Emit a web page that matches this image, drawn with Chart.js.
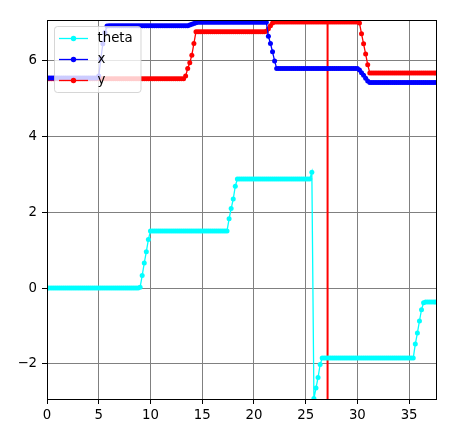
<!DOCTYPE html>
<html><head><meta charset="utf-8">
<script src="https://cdn.jsdelivr.net/npm/chart.js@4.4.0/dist/chart.umd.min.js"></script>
<style>html,body{margin:0;padding:0;background:#fff;}canvas{display:block;}</style>
</head><body>
<canvas id="c" width="454" height="438"></canvas>
<script>
// sample times (s)
const time = [
0,0.2,0.4,0.6,0.8,1,1.2,1.4,1.6,1.8,
2,2.2,2.4,2.6,2.8,3,3.2,3.4,3.6,3.8,
4,4.2,4.4,4.6,4.8,5,5.2,5.4,5.6,5.8,
6,6.2,6.4,6.6,6.8,7,7.2,7.4,7.6,7.8,
8,8.2,8.4,8.6,8.8,9,9.2,9.4,9.6,9.8,
10,10.2,10.4,10.6,10.8,11,11.2,11.4,11.6,11.8,
12,12.2,12.4,12.6,12.8,13,13.2,13.4,13.6,13.8,
14,14.2,14.4,14.6,14.8,15,15.2,15.4,15.6,15.8,
16,16.2,16.4,16.6,16.8,17,17.2,17.4,17.6,17.8,
18,18.2,18.4,18.6,18.8,19,19.2,19.4,19.6,19.8,
20,20.2,20.4,20.6,20.8,21,21.2,21.4,21.6,21.8,
22,22.2,22.4,22.6,22.8,23,23.2,23.4,23.6,23.8,
24,24.2,24.4,24.6,24.8,25,25.2,25.4,25.6,25.8,
26,26.2,26.4,26.6,26.8,27,27.2,27.4,27.6,27.8,
28,28.2,28.4,28.6,28.8,29,29.2,29.4,29.6,29.8,
30,30.2,30.4,30.6,30.8,31,31.2,31.4,31.6,31.8,
32,32.2,32.4,32.6,32.8,33,33.2,33.4,33.6,33.8,
34,34.2,34.4,34.6,34.8,35,35.2,35.4,35.6,35.8,
36,36.2,36.4,36.6,36.8,37,37.2,37.4,37.6
];
const theta = [
0,0,0,0,0,0,0,0,0,0,
0,0,0,0,0,0,0,0,0,0,
0,0,0,0,0,0,0,0,0,0,
0,0,0,0,0,0,0,0,0,0,
0,0,0,0,0,0.02,0.33,0.66,0.96,1.28,
1.51,1.51,1.51,1.51,1.51,1.51,1.51,1.51,1.51,1.51,
1.51,1.51,1.51,1.51,1.51,1.51,1.51,1.51,1.51,1.51,
1.51,1.51,1.51,1.51,1.51,1.51,1.51,1.51,1.51,1.51,
1.51,1.51,1.51,1.51,1.51,1.51,1.51,1.51,1.83,2.1,
2.35,2.69,2.88,2.88,2.88,2.88,2.88,2.88,2.88,2.88,
2.88,2.88,2.88,2.88,2.88,2.88,2.88,2.88,2.88,2.88,
2.88,2.88,2.88,2.88,2.88,2.88,2.88,2.88,2.88,2.88,
2.88,2.88,2.88,2.88,2.88,2.88,2.88,2.88,3.06,-2.92,
-2.64,-2.36,-2.02,-1.85,-1.85,-1.85,-1.85,-1.85,-1.85,-1.85,
-1.85,-1.85,-1.85,-1.85,-1.85,-1.85,-1.85,-1.85,-1.85,-1.85,
-1.85,-1.85,-1.85,-1.85,-1.85,-1.85,-1.85,-1.85,-1.85,-1.85,
-1.85,-1.85,-1.85,-1.85,-1.85,-1.85,-1.85,-1.85,-1.85,-1.85,
-1.85,-1.85,-1.85,-1.85,-1.85,-1.85,-1.85,-1.85,-1.48,-1.19,
-0.87,-0.57,-0.39,-0.37,-0.37,-0.37,-0.37,-0.37,-0.37
];
const xPos = [
5.55,5.55,5.55,5.55,5.55,5.55,5.55,5.55,5.55,5.55,
5.55,5.55,5.55,5.55,5.55,5.55,5.55,5.55,5.55,5.55,
5.55,5.55,5.55,5.55,5.55,5.6,6.05,6.45,6.75,6.92,
6.93,6.93,6.93,6.93,6.93,6.93,6.93,6.93,6.93,6.93,
6.93,6.93,6.93,6.93,6.93,6.93,6.93,6.93,6.93,6.93,
6.93,6.93,6.93,6.93,6.93,6.93,6.93,6.93,6.93,6.93,
6.93,6.93,6.93,6.93,6.93,6.93,6.93,6.93,6.93,6.95,
6.97,6.99,7.01,7.02,7.02,7.02,7.02,7.02,7.02,7.02,
7.02,7.02,7.02,7.02,7.02,7.02,7.02,7.02,7.02,7.02,
7.02,7.02,7.02,7.02,7.02,7.02,7.02,7.02,7.02,7.02,
7.02,7.02,7.02,7.02,7.02,7.02,7.02,6.65,6.46,6.24,
6.0,5.8,5.8,5.8,5.8,5.8,5.8,5.8,5.8,5.8,
5.8,5.8,5.8,5.8,5.8,5.8,5.8,5.8,5.8,5.8,
5.8,5.8,5.8,5.8,5.8,5.8,5.8,5.8,5.8,5.8,
5.8,5.8,5.8,5.8,5.8,5.8,5.8,5.8,5.8,5.8,
5.8,5.76,5.69,5.62,5.54,5.47,5.43,5.43,5.43,5.43,
5.43,5.43,5.43,5.43,5.43,5.43,5.43,5.43,5.43,5.43,
5.43,5.43,5.43,5.43,5.43,5.43,5.43,5.43,5.43,5.43,
5.43,5.43,5.43,5.43,5.43,5.43,5.43,5.43,5.43
];
const yPos = [
5.53,5.53,5.53,5.53,5.53,5.53,5.53,5.53,5.53,5.53,
5.53,5.53,5.53,5.53,5.53,5.53,5.53,5.53,5.53,5.53,
5.53,5.53,5.53,5.53,5.53,5.53,5.53,5.53,5.53,5.53,
5.53,5.53,5.53,5.53,5.53,5.53,5.53,5.53,5.53,5.53,
5.53,5.53,5.53,5.53,5.53,5.53,5.53,5.53,5.53,5.53,
5.53,5.53,5.53,5.53,5.53,5.53,5.53,5.53,5.53,5.53,
5.53,5.53,5.53,5.53,5.53,5.53,5.53,5.6,5.8,5.95,
6.15,6.46,6.77,6.77,6.77,6.77,6.77,6.77,6.77,6.77,
6.77,6.77,6.77,6.77,6.77,6.77,6.77,6.77,6.77,6.77,
6.77,6.77,6.77,6.77,6.77,6.77,6.77,6.77,6.77,6.77,
6.77,6.77,6.77,6.77,6.77,6.77,6.78,6.85,6.93,7.0,
7.03,7.03,7.03,7.03,7.03,7.03,7.03,7.03,7.03,7.03,
7.03,7.03,7.03,7.03,7.03,7.03,7.03,7.03,7.03,7.03,
7.03,7.03,7.03,7.03,7.03,7.03,7.03,7.03,7.03,7.03,
7.03,7.03,7.03,7.03,7.03,7.03,7.03,7.03,7.03,7.03,
7.03,7.0,6.72,6.45,6.18,5.9,5.68,5.68,5.68,5.68,
5.68,5.68,5.68,5.68,5.68,5.68,5.68,5.68,5.68,5.68,
5.68,5.68,5.68,5.68,5.68,5.68,5.68,5.68,5.68,5.68,
5.68,5.68,5.68,5.68,5.68,5.68,5.68,5.68,5.68
];
const seriesNames = ['theta', 'x', 'y'];
const seriesColors = ['#00ffff', '#0000ff', '#ff0000'];
const markerTime = 27.12;
const xTicks = [0, 5, 10, 15, 20, 25, 30, 35];
const yTicks = [-2, 0, 2, 4, 6];
const xRange = [0, 37.6];
const yRange = [-2.93, 7.08];

const FONT = 'DejaVu Sans';
const FS = 13.3;

function series(name, vals, color) {
  return {
    label: name,
    data: time.map((t, i) => ({ x: t, y: vals[i] })),
    borderColor: color, backgroundColor: color,
    borderWidth: 1.3, pointRadius: 2.5, pointBorderWidth: 0,
    pointHoverRadius: 0, showLine: true, tension: 0, fill: false
  };
}
const datasets = [
  series(seriesNames[0], theta, seriesColors[0]),
  series(seriesNames[1], xPos, seriesColors[1]),
  series(seriesNames[2], yPos, seriesColors[2]),
  {
    label: 'marker',
    data: [{ x: markerTime, y: yRange[0] }, { x: markerTime, y: yRange[1] }],
    borderColor: '#ff0000', backgroundColor: '#ff0000',
    borderWidth: 2, pointRadius: 0, showLine: true, fill: false
  }
];

const framePlugin = {
  id: 'frame',
  afterDatasetsDraw(chart) {
    const { ctx, chartArea: a } = chart;
    ctx.save();
    ctx.strokeStyle = '#000';
    ctx.lineWidth = 1;
    ctx.strokeRect(Math.round(a.left) + 0.5, Math.round(a.top) + 0.5,
      Math.round(a.right - a.left), Math.round(a.bottom - a.top));
    ctx.restore();
  },
  afterDraw(chart) {
    const ctx = chart.ctx;
    const bx = 54.5, by = 26.5, bw = 86.5, bh = 66, r = 3;
    ctx.save();
    ctx.beginPath();
    ctx.moveTo(bx + r, by);
    ctx.lineTo(bx + bw - r, by);
    ctx.arcTo(bx + bw, by, bx + bw, by + r, r);
    ctx.lineTo(bx + bw, by + bh - r);
    ctx.arcTo(bx + bw, by + bh, bx + bw - r, by + bh, r);
    ctx.lineTo(bx + r, by + bh);
    ctx.arcTo(bx, by + bh, bx, by + bh - r, r);
    ctx.lineTo(bx, by + r);
    ctx.arcTo(bx, by, bx + r, by, r);
    ctx.closePath();
    ctx.fillStyle = 'rgba(255,255,255,0.8)';
    ctx.fill();
    ctx.strokeStyle = 'rgba(204,204,204,0.8)';
    ctx.lineWidth = 1;
    ctx.stroke();
    const rows = [38.5, 59.5, 80.5];
    ctx.font = FS + 'px "' + FONT + '"';
    ctx.textBaseline = 'middle';
    ctx.textAlign = 'left';
    for (let i = 0; i < 3; i++) {
      const y = rows[i];
      ctx.strokeStyle = seriesColors[i];
      ctx.lineWidth = 1.3;
      ctx.beginPath();
      ctx.moveTo(59, y); ctx.lineTo(88, y);
      ctx.stroke();
      ctx.fillStyle = seriesColors[i];
      ctx.beginPath();
      ctx.arc(73.5, y, 2.7, 0, Math.PI * 2);
      ctx.fill();
      ctx.fillStyle = '#000';
      ctx.fillText(seriesNames[i], 97.5, y);
    }
    ctx.restore();
  }
};

new Chart(document.getElementById('c'), {
  type: 'line',
  data: { datasets },
  options: {
    responsive: false,
    animation: false,
    devicePixelRatio: 1,
    parsing: true,
    layout: { padding: { top: 20, right: 18, left: 0, bottom: 0 } },
    plugins: { legend: { display: false }, tooltip: { enabled: false } },
    events: [],
    scales: {
      x: {
        type: 'linear', min: xRange[0], max: xRange[1],
        afterBuildTicks: s => { s.ticks = xTicks.map(v => ({ value: v })); },
        afterFit: s => { s.height = 39; },
        grid: { color: '#808080', lineWidth: 1, drawTicks: true, tickLength: 5, tickColor: '#000', tickWidth: 1 },
        border: { display: true, color: '#000', width: 1 },
        ticks: { color: '#000', font: { family: FONT, size: FS }, padding: 4, maxRotation: 0, autoSkip: false,
          callback: v => String(v).replace('-', '\u2212') }
      },
      y: {
        type: 'linear', min: yRange[0], max: yRange[1],
        afterBuildTicks: s => { s.ticks = yTicks.map(v => ({ value: v })); },
        afterFit: s => { s.width = 47; },
        grid: { color: '#808080', lineWidth: 1, drawTicks: true, tickLength: 5, tickColor: '#000', tickWidth: 1 },
        border: { display: true, color: '#000', width: 1 },
        ticks: { color: '#000', font: { family: FONT, size: FS }, padding: 5, autoSkip: false,
          callback: v => String(v).replace('-', '\u2212') }
      }
    }
  },
  plugins: [framePlugin]
});
</script>
</body></html>
